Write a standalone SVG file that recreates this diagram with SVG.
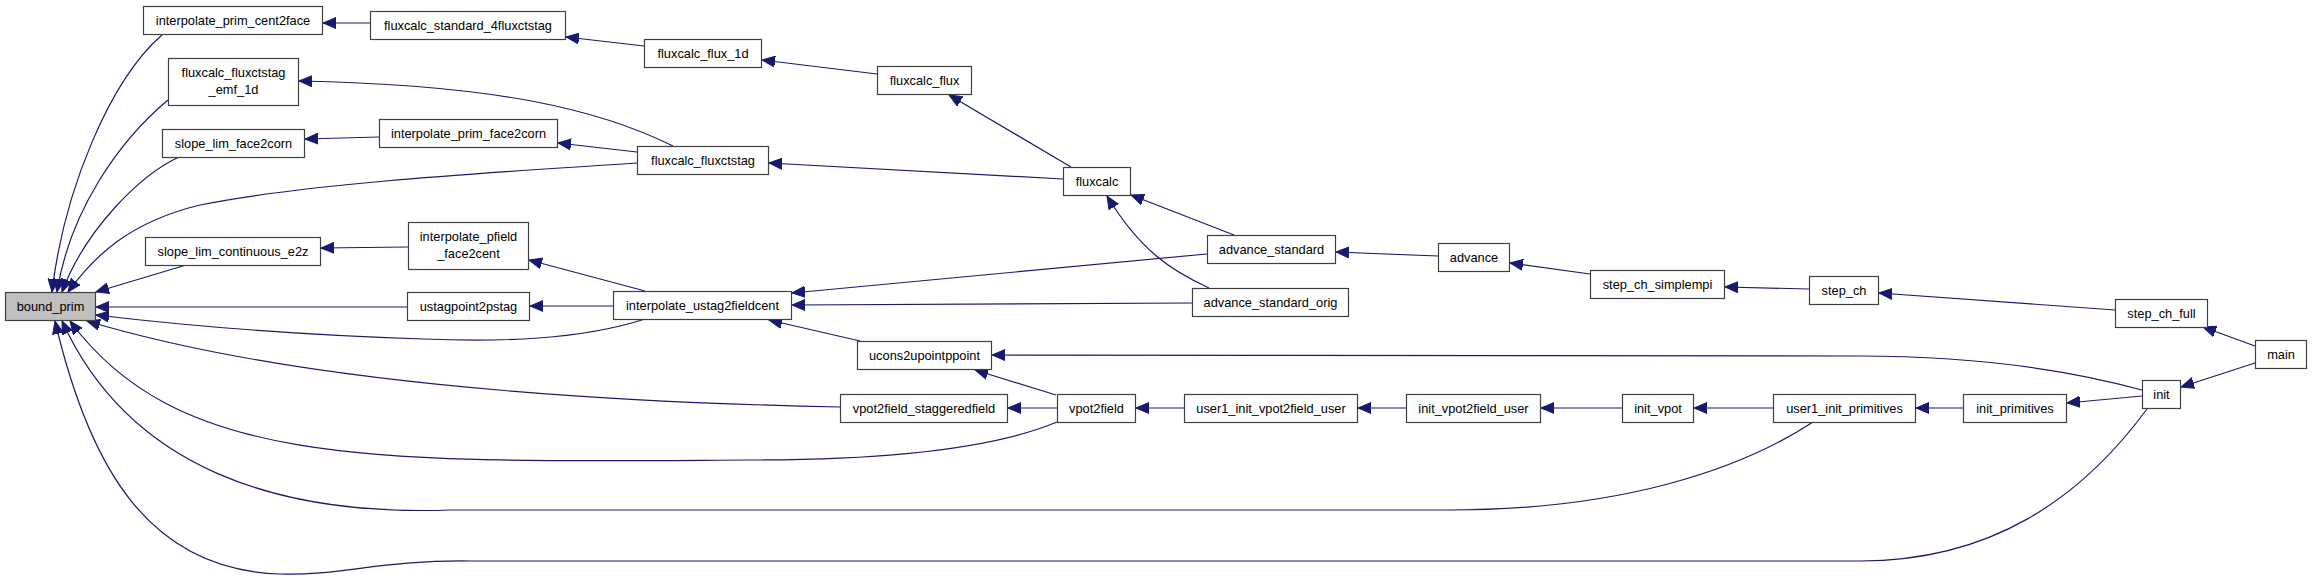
<svg xmlns="http://www.w3.org/2000/svg" width="2312" height="579" viewBox="0 0 2312 579">
<style>
.n rect{fill:#ffffff;stroke:#404040;stroke-width:1.2}
.n.g rect{fill:#bfbfbf}
.n text{font-family:"Liberation Sans",Arial,sans-serif;font-size:12.8px;fill:#000;text-anchor:middle}
.e path{fill:none;stroke:#191970;stroke-width:1.2;marker-end:url(#ah)}
</style>
<defs>
<marker id="ah" markerUnits="userSpaceOnUse" markerWidth="14" markerHeight="12" refX="13" refY="5.5" orient="auto" viewBox="0 0 14 11">
<path d="M0,0 L13,5.5 L0,11 Z" fill="#191970" stroke="#191970" stroke-width="1"/>
</marker>
</defs>
<rect width="2312" height="579" fill="#ffffff"/>
<g id="edges" class="e">
<path d="M370,23 L323,23"/>
<path d="M644,46 L566,37"/>
<path d="M877,74 L762,60"/>
<path d="M1071,167 L949,95"/>
<path d="M673,146 C600,110 500,85 299,81"/>
<path d="M379,137 L305,139"/>
<path d="M637,152 L558,143"/>
<path d="M1063,179 L769,163"/>
<path d="M408,247 L321,248"/>
<path d="M645,291 L529,260"/>
<path d="M613,306 L530,306"/>
<path d="M1234,235 L1131,195"/>
<path d="M1209,288 C1170,270 1140,250 1107,196"/>
<path d="M1207,254 L792,293"/>
<path d="M1192,303 L792,305"/>
<path d="M860,341 L769,320"/>
<path d="M1438,256 L1336,252"/>
<path d="M1590,274 L1510,263"/>
<path d="M1809,289 L1725,287"/>
<path d="M2115,310 L1879,293"/>
<path d="M2255,346 L2203,327"/>
<path d="M2255,363 L2181,387"/>
<path d="M2142,390 C2050,365 1950,356 1859,356 L992,355"/>
<path d="M2142,396 L2067,403"/>
<path d="M1963,408 L1916,408"/>
<path d="M1773,408 L1694,408"/>
<path d="M1622,408 L1541,408"/>
<path d="M1406,408 L1358,408"/>
<path d="M1184,408 L1136,408"/>
<path d="M1057,408 L1008,408"/>
<path d="M1056,395 L975,370"/>
<path d="M162,35 C110,80 64,190 52,292"/>
<path d="M168,100 C120,140 70,210 57,292"/>
<path d="M179,157 C140,175 85,230 62,292"/>
<path d="M637,163 C450,175 300,185 200,205 C130,222 95,255 68,292"/>
<path d="M186,265 L96,292"/>
<path d="M407,307 L96,307"/>
<path d="M645,319 C580,340 500,342 423,339 C300,335 180,325 96,315"/>
<path d="M840,407 C500,400 250,370 87,321"/>
<path d="M1057,422 C990,450 880,460 750,460 C380,462 180,470 70,321"/>
<path d="M1813,422 C1740,470 1620,510 1450,510 L450,510 C280,516 130,470 62,321"/>
<path d="M2147,409 C2080,500 1990,561 1860,561 L470,561 C380,560 340,576 280,574 C150,570 90,470 55,321"/>
</g>
<g id="bound_prim" class="n g"><rect x="5.5" y="292.5" width="90" height="28"/><text x="50.5" y="311">bound_prim</text></g>
<g id="interpolate_prim_cent2face" class="n"><rect x="143.5" y="6.5" width="179" height="28"/><text x="233" y="25">interpolate_prim_cent2face</text></g>
<g id="fluxcalc_standard_4fluxctstag" class="n"><rect x="370.5" y="11.5" width="195" height="28"/><text x="468" y="30">fluxcalc_standard_4fluxctstag</text></g>
<g id="fluxcalc_flux_1d" class="n"><rect x="644.5" y="39.5" width="117" height="28"/><text x="703" y="58">fluxcalc_flux_1d</text></g>
<g id="fluxcalc_flux" class="n"><rect x="877.5" y="66.5" width="94" height="28"/><text x="924.5" y="85">fluxcalc_flux</text></g>
<g id="fluxcalc_fluxctstag_emf_1d" class="n"><rect x="168.5" y="58.5" width="130" height="47"/><text x="233.5" y="77">fluxcalc_fluxctstag</text><text x="233.5" y="94">_emf_1d</text></g>
<g id="slope_lim_face2corn" class="n"><rect x="162.5" y="129.5" width="142" height="28"/><text x="233.5" y="148">slope_lim_face2corn</text></g>
<g id="interpolate_prim_face2corn" class="n"><rect x="379.5" y="119.5" width="178" height="28"/><text x="468.5" y="138">interpolate_prim_face2corn</text></g>
<g id="fluxcalc_fluxctstag" class="n"><rect x="637.5" y="146.5" width="131" height="28"/><text x="703" y="165">fluxcalc_fluxctstag</text></g>
<g id="fluxcalc" class="n"><rect x="1063.5" y="167.5" width="67" height="28"/><text x="1097" y="186">fluxcalc</text></g>
<g id="slope_lim_continuous_e2z" class="n"><rect x="145.5" y="237.5" width="175" height="28"/><text x="233" y="256">slope_lim_continuous_e2z</text></g>
<g id="interpolate_pfield_face2cent" class="n"><rect x="408.5" y="222.5" width="120" height="47"/><text x="468.5" y="241">interpolate_pfield</text><text x="468.5" y="258">_face2cent</text></g>
<g id="ustagpoint2pstag" class="n"><rect x="407.5" y="292.5" width="122" height="28"/><text x="468.5" y="311">ustagpoint2pstag</text></g>
<g id="interpolate_ustag2fieldcent" class="n"><rect x="613.5" y="291.5" width="178" height="28"/><text x="702.5" y="310">interpolate_ustag2fieldcent</text></g>
<g id="advance_standard" class="n"><rect x="1207.5" y="235.5" width="128" height="28"/><text x="1271.5" y="254">advance_standard</text></g>
<g id="advance_standard_orig" class="n"><rect x="1192.5" y="288.5" width="156" height="28"/><text x="1270.5" y="307">advance_standard_orig</text></g>
<g id="advance" class="n"><rect x="1438.5" y="243.5" width="71" height="28"/><text x="1474" y="262">advance</text></g>
<g id="ucons2upointppoint" class="n"><rect x="857.5" y="341.5" width="134" height="28"/><text x="924.5" y="360">ucons2upointppoint</text></g>
<g id="vpot2field_staggeredfield" class="n"><rect x="840.5" y="394.5" width="167" height="28"/><text x="924" y="413">vpot2field_staggeredfield</text></g>
<g id="vpot2field" class="n"><rect x="1057.5" y="394.5" width="78" height="28"/><text x="1096.5" y="413">vpot2field</text></g>
<g id="user1_init_vpot2field_user" class="n"><rect x="1184.5" y="394.5" width="173" height="28"/><text x="1271" y="413">user1_init_vpot2field_user</text></g>
<g id="init_vpot2field_user" class="n"><rect x="1406.5" y="394.5" width="134" height="28"/><text x="1473.5" y="413">init_vpot2field_user</text></g>
<g id="init_vpot" class="n"><rect x="1622.5" y="394.5" width="71" height="28"/><text x="1658" y="413">init_vpot</text></g>
<g id="user1_init_primitives" class="n"><rect x="1773.5" y="394.5" width="142" height="28"/><text x="1844.5" y="413">user1_init_primitives</text></g>
<g id="init_primitives" class="n"><rect x="1963.5" y="394.5" width="103" height="28"/><text x="2015" y="413">init_primitives</text></g>
<g id="init" class="n"><rect x="2142.5" y="380.5" width="38" height="28"/><text x="2161.5" y="399">init</text></g>
<g id="main" class="n"><rect x="2255.5" y="340.5" width="51" height="28"/><text x="2281" y="359">main</text></g>
<g id="step_ch_full" class="n"><rect x="2115.5" y="299.5" width="92" height="28"/><text x="2161.5" y="318">step_ch_full</text></g>
<g id="step_ch" class="n"><rect x="1809.5" y="276.5" width="69" height="28"/><text x="1844" y="295">step_ch</text></g>
<g id="step_ch_simplempi" class="n"><rect x="1590.5" y="270.5" width="134" height="28"/><text x="1657.5" y="289">step_ch_simplempi</text></g>
</svg>
